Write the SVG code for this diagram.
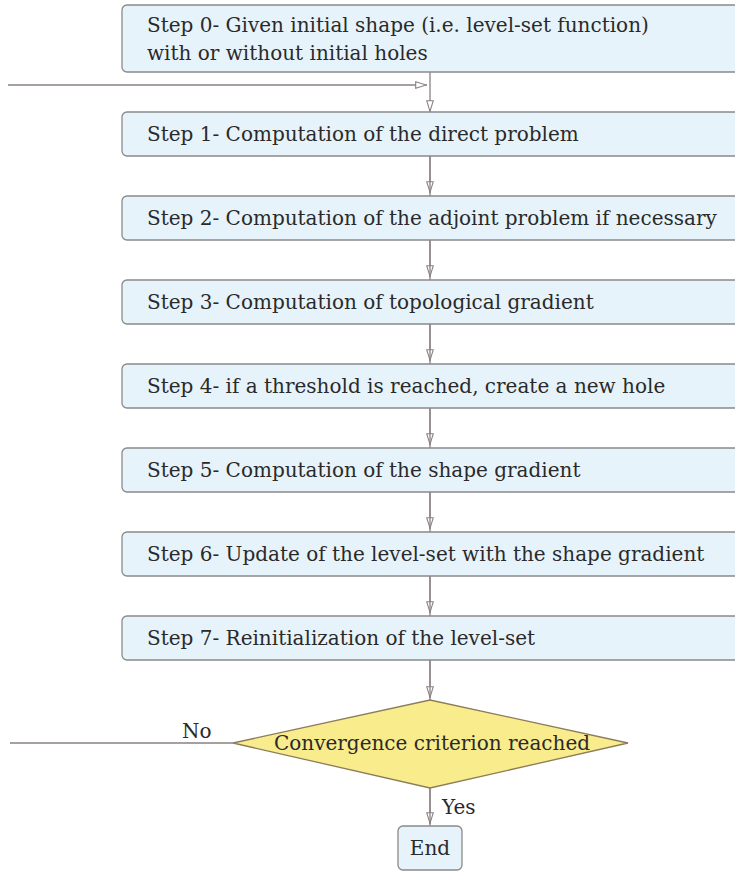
<svg xmlns="http://www.w3.org/2000/svg" width="735" height="876" viewBox="0 0 735 876">
<style>
.box{fill:#e7f3fa;stroke:#8a8a8a;stroke-width:1.3}
.dia{fill:#f8ec8c;stroke:#8c7c5a;stroke-width:1.3}
.t{font-family:"DejaVu Serif","Liberation Serif",serif;font-size:20px;fill:#2a2a2a}
.c{fill:none;stroke:#8a8080;stroke-width:1.3}
</style>
<defs>
<marker id="ah" viewBox="0 0 12 8" refX="12" refY="4" markerWidth="12" markerHeight="8" markerUnits="userSpaceOnUse" orient="auto">
<path d="M0.7,0.7 L11.3,4 L0.7,7.3 Z" fill="#fff" stroke="#8a8080" stroke-width="1.1"/>
</marker>
</defs>
<g id="connectors">
<path class="c" d="M430,72 V112" marker-end="url(#ah)"/>
<path class="c" d="M8,85 H427" marker-end="url(#ah)"/>
<path class="c" d="M430,156 V193" marker-end="url(#ah)"/>
<path class="c" d="M430,240 V277" marker-end="url(#ah)"/>
<path class="c" d="M430,324 V361" marker-end="url(#ah)"/>
<path class="c" d="M430,408 V445" marker-end="url(#ah)"/>
<path class="c" d="M430,492 V529" marker-end="url(#ah)"/>
<path class="c" d="M430,576 V613" marker-end="url(#ah)"/>
<path class="c" d="M430,660 V698" marker-end="url(#ah)"/>
<path class="c" d="M430,788 V824" marker-end="url(#ah)"/>
<path class="c" d="M233,743 H10"/>
<path class="c" d="M430,156 V196 M430,240 V280 M430,324 V364 M430,408 V448 M430,492 V532 M430,576 V616 M430,660 V700 M430,788 V826"/>
<text class="t" x="182" y="738">No</text>
<text class="t" x="442" y="814">Yes</text>
</g>
<g id="step0"><rect class="box" x="122" y="5" width="630" height="67" rx="5"/>
<text class="t" x="147" y="32">Step 0- Given initial shape (i.e. level-set function)</text>
<text class="t" x="147" y="60">with or without initial holes</text></g>
<g id="step1"><rect class="box" x="122" y="112" width="630" height="44" rx="5"/>
<text class="t" x="147" y="141">Step 1- Computation of the direct problem</text></g>
<g id="step2"><rect class="box" x="122" y="196" width="630" height="44" rx="5"/>
<text class="t" x="147" y="225">Step 2- Computation of the adjoint problem if necessary</text></g>
<g id="step3"><rect class="box" x="122" y="280" width="630" height="44" rx="5"/>
<text class="t" x="147" y="309">Step 3- Computation of topological gradient</text></g>
<g id="step4"><rect class="box" x="122" y="364" width="630" height="44" rx="5"/>
<text class="t" x="147" y="393">Step 4- if a threshold is reached, create a new hole</text></g>
<g id="step5"><rect class="box" x="122" y="448" width="630" height="44" rx="5"/>
<text class="t" x="147" y="477">Step 5- Computation of the shape gradient</text></g>
<g id="step6"><rect class="box" x="122" y="532" width="630" height="44" rx="5"/>
<text class="t" x="147" y="561">Step 6- Update of the level-set with the shape gradient</text></g>
<g id="step7"><rect class="box" x="122" y="616" width="630" height="44" rx="5"/>
<text class="t" x="147" y="645">Step 7- Reinitialization of the level-set</text></g>
<g id="decision"><path class="dia" d="M430,700 L628,743 L430,788 L233,743 Z"/>
<text class="t" x="432" y="750" text-anchor="middle">Convergence criterion reached</text></g>
<g id="end"><rect class="box" x="398" y="826" width="64" height="44" rx="5"/>
<text class="t" x="430" y="855" text-anchor="middle">End</text></g>
</svg>
